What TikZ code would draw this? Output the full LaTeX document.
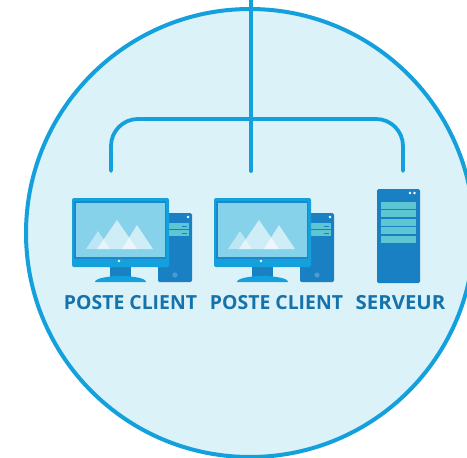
\documentclass[tikz,border=0pt]{standalone}
\usepackage{fontspec}
\setmainfont{Open Sans}
\definecolor{disc}{HTML}{DCF2F9}
\definecolor{wire}{HTML}{14A0DC}
\definecolor{case}{HTML}{1A80C4}
\definecolor{screen}{HTML}{86D2EA}
\definecolor{slot}{HTML}{5EC5D2}
\definecolor{label}{HTML}{1472AC}
\definecolor{knob}{HTML}{4C9BD0}
\tikzset{
  x=1pt,y=-1pt,
  wireline/.style={draw=wire,line width=3.8pt,line cap=round},
  caption/.style={text=label,font=\bfseries\fontsize{19.4}{22}\selectfont,inner sep=0pt,anchor=base},
  client/.pic={
    % tower
    \fill[case,rounded corners=1.5pt] (86,213) rectangle (120,282);
    \fill[slot] (97,223) rectangle (117,229);
    \fill[slot] (97,230) rectangle (117,236);
    \fill[case] (110,225.5) rectangle (115,226.5);
    \fill[case] (110,232.5) rectangle (115,233.5);
    \fill[white] (116,217) circle (1.3);
    \fill[knob] (103,275) circle (2.6);
    % stand
    \fill[case] (38,267) rectangle (59,277);
    \fill[wire] (23,282) .. controls (23,278) and (38,276) .. (48,276) .. controls (60,276) and (74,278) .. (74,282) -- cycle;
    % monitor
    \fill[wire,rounded corners=2pt] (0,198) rectangle (97,267);
    \fill[case!70!wire] (2,201) rectangle (94,259);
    \fill[screen] (4,203) rectangle (93,257);
    \fill[white,opacity=.45] (14,249) -- (26,231) -- (38,249) -- cycle;
    \fill[white,opacity=.6] (25,249) -- (45,220) -- (65,249) -- cycle;
    \fill[white,opacity=.6] (50,249) -- (65,225) -- (81,249) -- cycle;
    \fill[white] (47,261) circle (1.3);
  }
}
\begin{document}
\begin{tikzpicture}
\useasboundingbox (0,0) rectangle (467,458);
\clip (0,0) rectangle (467,458);
\fill[white] (0,0) rectangle (467,458);
\filldraw[fill=disc,draw=wire,line width=4pt] (250,233) circle (224);
% connectors
\coordinate (top) at (251,-3);
\coordinate (feedA) at (111,171);
\coordinate (feedB) at (251,171);
\coordinate (feedC) at (403,171);
\draw[wireline] (top) -- (feedB);
\draw[wireline,rounded corners=27pt] (feedA) |- (251,119) -| (feedC);
% clients
\pic at (72,0) {client};
\pic at (214,0) {client};
% server
\fill[case,rounded corners=1.5pt] (377,189) rectangle (420,283);
\foreach \a/\b in {202/209,210/217,219/226,227/234,236/243}
  \fill[slot] (381,\a) rectangle (416,\b);
\fill[white] (410,193) circle (1.3);
\fill[white] (414.5,193) circle (1.3);
% labels
\node[caption] (c1) at (130.5,309) {POSTE CLIENT};
\node[caption] (c2) at (276.5,309) {POSTE CLIENT};
\node[caption] (c3) at (400.5,309) {\scalebox{1.05}[1]{SERVEUR}};
\end{tikzpicture}
\end{document}
